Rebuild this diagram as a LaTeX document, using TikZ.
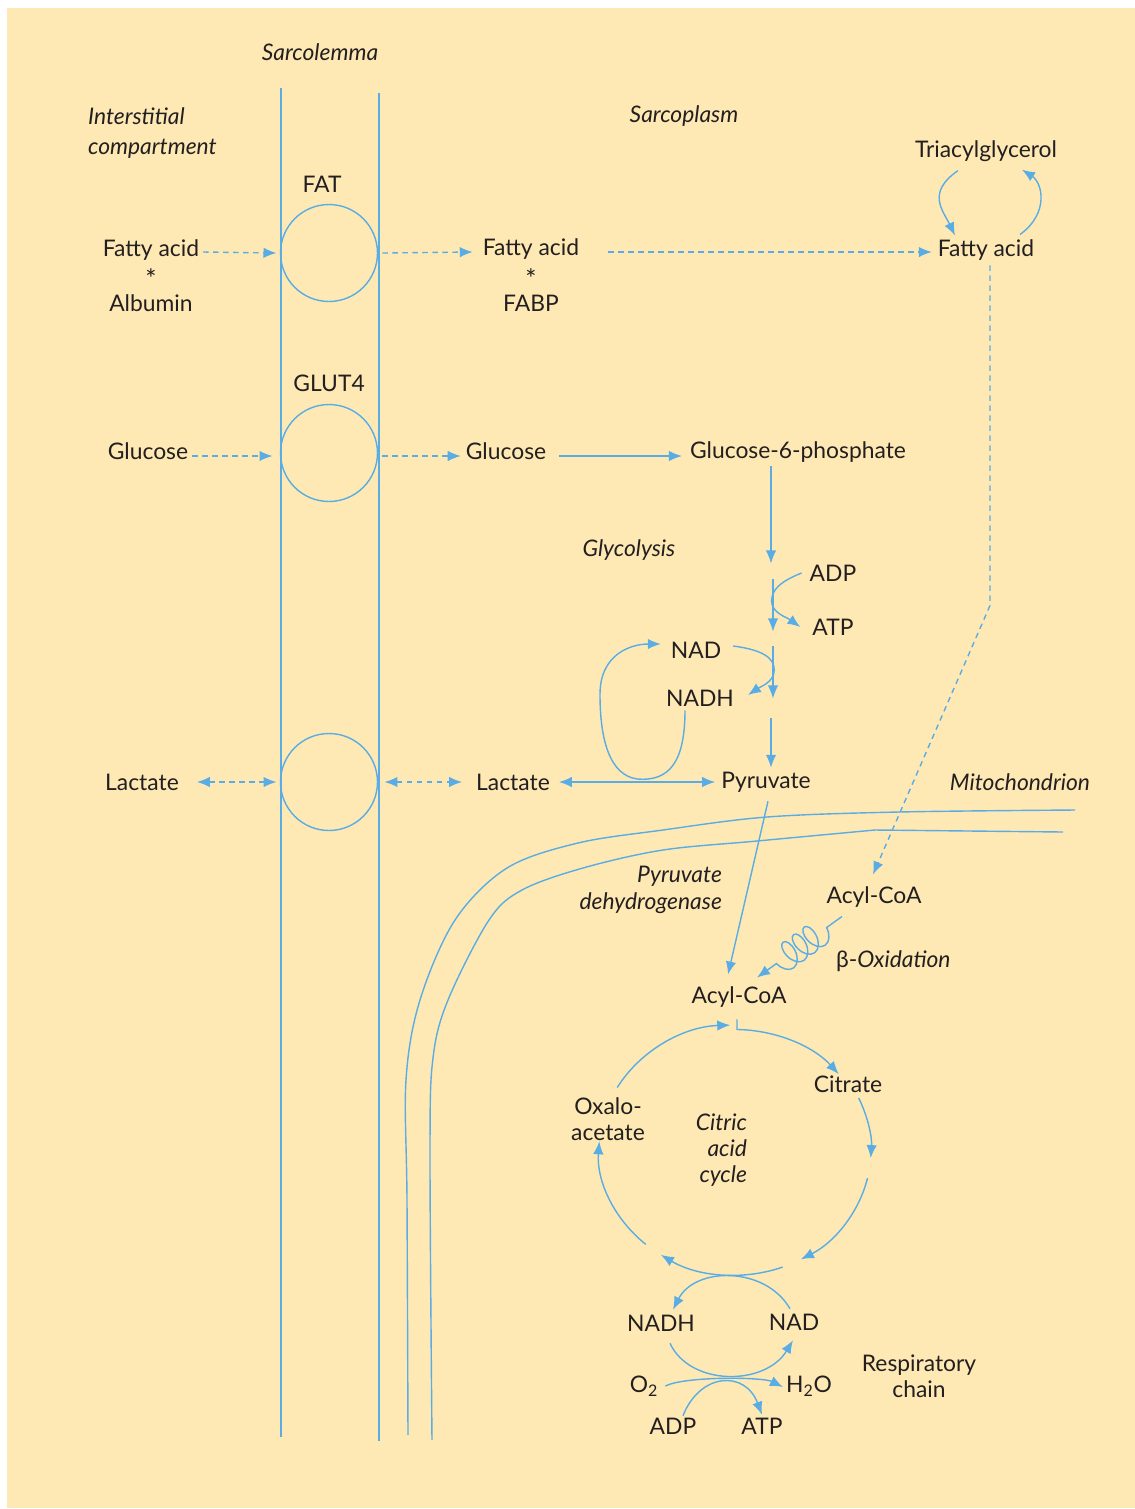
\documentclass[tikz,border=0pt]{standalone}
\usepackage{fontspec}
\setmainfont{Lato}
\usetikzlibrary{arrows.meta,calc,decorations.pathmorphing}
\definecolor{paper}{HTML}{FEE9B4}
\definecolor{memb}{HTML}{5AADE4}
\definecolor{ink}{HTML}{231F20}

\begin{document}
\begin{tikzpicture}[
  x=0.02cm, y=-0.02cm,
  txt/.style={text=ink, inner sep=1pt, font=\fontsize{13}{15}\selectfont},
  zone/.style={text=ink, inner sep=1pt, font=\fontsize{13}{15}\selectfont\itshape},
  pore/.style={circle, draw=memb, line width=0.8pt, minimum size=1.94cm, inner sep=0pt, outer sep=0pt},
  wall/.style={draw=memb, line width=0.8pt},
  flow/.style={wall, -{Latex[length=2.6mm, width=2.1mm]}},
  both/.style={wall, {Latex[length=2.6mm, width=2.1mm]}-{Latex[length=2.6mm, width=2.1mm]}},
  dashflow/.style={flow, dash pattern=on 1.1mm off 0.9mm},
  dashboth/.style={both, dash pattern=on 1.1mm off 0.9mm},
]
% Background
\useasboundingbox (0,0) rectangle (1135,1509);
\fill[paper] (7,8) rectangle (1135,1508);

% Sarcolemma
\draw[wall] (281,88) -- (281,1437);
\draw[wall] (379,93) -- (379,1441);
\node[pore] (fat) at (329,253) {};
\node[pore] (glut) at (329,453) {};
\node[pore] (mct) at (329,782) {};

% Mitochondrial membranes
\draw[wall] plot[smooth, tension=0.55] coordinates {(1075,810) (899,812) (767,817) (663,830) (578,843) (507,868) (455,920) (420,1000) (406,1080) (407,1200) (408,1435)};
\draw[wall] (1063,832) -- plot[smooth, tension=0.55] coordinates {(875,830) (757,841) (663,850) (583,868) (522,890) (489,920) (448,1000) (433,1058) (430,1150) (432,1440)};

% Compartments
\node[zone] (sarcolemma) at (320,52) {Sarcolemma};
\node[zone, anchor=west, align=left, font=\fontsize{13}{17}\selectfont\itshape] (interst) at (86,133) {Interstitial\\compartment};
\node[zone] (sarcoplasm) at (684,116) {Sarcoplasm};
\node[zone] (mito) at (1020,782) {Mitochondrion};
\node[zone] (glycolysis) at (629,550) {Glycolysis};
\node[zone, anchor=east, align=right] (pdh) at (724,890) {Pyruvate\\dehydrogenase};
\node[zone, anchor=east, align=right] (cac) at (749,1150) {Citric\\acid\\cycle};
\node[txt, anchor=west] (betaox) at (834,961) {β-\textit{Oxidation}};
\node[txt, align=center] (resp) at (919,1376) {Respiratory\\chain};

% Transporters
\node[txt] (fatlbl) at (322,184) {FAT};
\node[txt] (glutlbl) at (329,383) {GLUT4};

% Fatty acids
\node[txt] (faout) at (151,250) {Fatty acid};
\node[txt, font=\fontsize{15}{15}\selectfont] (starout) at (151,279) {*};
\node[txt] (albumin) at (151,303) {Albumin};
\node[txt] (fain) at (531,249) {Fatty acid};
\node[txt, font=\fontsize{15}{15}\selectfont] (starin) at (531,279) {*};
\node[txt] (fabp) at (531,303) {FABP};
\node[txt] (fatg) at (986,250) {Fatty acid};
\node[txt] (tag) at (986,151) {Triacylglycerol};

% Glucose and glycolysis
\node[txt] (gluout) at (148,451) {Glucose};
\node[txt] (gluin) at (506,451) {Glucose};
\node[txt] (g6p) at (798,452) {Glucose-6-phosphate};
\node[txt] (adpg) at (833,573) {ADP};
\node[txt] (atpg) at (833,627) {ATP};
\node[txt] (nadg) at (696,650) {NAD};
\node[txt] (nadhg) at (700,698) {NADH};
\node[txt] (lacout) at (142,782) {Lactate};
\node[txt] (lacin) at (513,782) {Lactate};
\node[txt] (pyr) at (766,782) {Pyruvate};

% Mitochondrion
\node[txt] (acylm) at (874,897) {Acyl-CoA};
\node[txt] (acyl) at (739,997) {Acyl-CoA};
\node[txt] (citrate) at (848,1084) {Citrate};
\node[txt, align=center] (oaa) at (608,1119) {Oxalo-\\acetate};
\node[txt] (nadhc) at (661,1323) {NADH};
\node[txt] (nadc) at (794,1322) {NAD};
\node[txt] (otwo) at (644,1386) {O\textsubscript{2}};
\node[txt] (water) at (809,1386) {H\textsubscript{2}O};
\node[txt] (adpc) at (673,1426) {ADP};
\node[txt] (atpc) at (762,1426) {ATP};
\coordinate (tca) at (735,1150);

% Fatty acid uptake
\draw[dashflow] ($(faout.east)+(2,2)$) -- ($(fat.west)+(-4,0)$);
\draw[dashflow] ($(fat.east)+(5,0)$) -- ($(fain.west)+(-8,3)$);
\draw[dashflow] ($(fain.east)+(27,3)$) -- ($(fatg.west)+(-4,2)$);
\draw[flow] ($(tag.south)+(-28,7)$) .. controls +(-32,22) and +(-12,-25) .. ($(fatg.north)+(-31,-2)$);
\draw[flow] ($(fatg.north)+(34,-3)$) .. controls +(30,-22) and +(20,13) .. ($(tag.south)+(36,6)$);
\draw[dashflow] ($(fatg.south)+(4,3)$) -- ++(0,340) -- ($(acylm.north)+(-1,-10)$);

% Glucose uptake and glycolysis
\draw[dashflow] ($(gluout.east)+(2,5)$) -- ($(glut.west)+(-8,3)$);
\draw[dashflow] ($(glut.east)+(5,3)$) -- ($(gluin.west)+(-3,5)$);
\draw[flow] ($(gluin.east)+(11,5)$) -- ($(g6p.west)+(-6,4)$);
\coordinate (trunk) at ($(g6p.south)+(-27,2)$);
\draw[flow] (trunk) -- ++(0,97);
\draw[flow] ($(trunk)+(2,113)$) -- ++(0,52);
\draw[flow] ($(trunk)+(2,180)$) -- ++(0,52);
\draw[flow] ($(trunk)+(0,252)$) -- ($(pyr.north)+(5,-2)$);
\draw[flow] ($(adpg.west)+(-6,0)$) .. controls +(-20,8) and +(0,-12) .. ++(-30,28) .. controls +(0,12) and +(-14,-10) .. ($(atpg.west)+(-10,0)$);
\draw[flow] ($(nadg.east)+(10,-4)$) .. controls +(30,4) and +(0,-12) .. ++(41,24) .. controls +(0,12) and +(12,-8) .. ($(nadhg.east)+(12,-3)$);
\draw[flow] ($(nadhg.south)+(-15,2)$) .. controls +(0,55) and +(25,0) .. ++(-43,69) .. controls +(-28,0) and +(0,55) .. ++(-42,-85) .. controls +(0,-40) and +(-30,0) .. ($(nadg.west)+(-8,-6)$);
\draw[both] ($(lacin.east)+(7,0)$) -- ($(pyr.west)+(-4,0)$);

% Lactate exchange
\draw[dashboth] ($(lacout.east)+(16,0)$) -- ($(mct.west)+(-4,0)$);
\draw[dashboth] ($(mct.east)+(7,0)$) -- ($(lacin.west)+(-12,0)$);

% Into the mitochondrion
\draw[flow] ($(pyr.south)+(2,7)$) -- ($(acyl.north)+(-11,-10)$);
\draw[flow, decorate, decoration={coil, aspect=0.6, amplitude=0.27cm, segment length=0.26cm, pre length=0.38cm, post length=0.46cm}] ($(acylm.south)+(-32,7)$) -- ($(acyl.north)+(18,-7)$);

% Citric acid cycle
\draw[flow] ($(acyl.south)+(-2,10)$) -- ++(0,10) arc[start angle=-89, end angle=-40, x radius=136, y radius=125];
\draw[flow] ($(tca)+(-24.6:136 and 125)$) arc[start angle=-24.6, end angle=3.7, x radius=136, y radius=125];
\draw[flow] ($(tca)+(13:136 and 125)$) arc[start angle=13, end angle=61, x radius=136, y radius=125];
\draw[flow] ($(tca)+(69.5:136 and 125)$) arc[start angle=69.5, end angle=123, x radius=136, y radius=125];
\draw[flow] ($(tca)+(131:136 and 125)$) arc[start angle=131, end angle=184, x radius=136, y radius=125];
\draw[flow] ($(tca)+(210:136 and 125)$) arc[start angle=210, end angle=268, x radius=136, y radius=125];

% Respiratory chain
\draw[flow] ($(nadc.north)+(-4,-3)$) .. controls +(-25,-43) and +(22,-43) .. ($(nadhc.north)+(12,-3)$);
\draw[flow] ($(nadhc.south)+(9,10)$) .. controls +(20,43) and +(-28,46) .. ($(nadc.south)+(-1,8)$);
\draw[flow] ($(otwo.east)+(5,0)$) .. controls +(20,-10) and +(-20,-10) .. ($(water.west)+(-1,1)$);
\draw[flow] ($(adpc.north)+(10,0)$) .. controls +(17,-43) and +(-17,-45) .. ($(atpc.north)+(0,-1)$);
\end{tikzpicture}
\end{document}
